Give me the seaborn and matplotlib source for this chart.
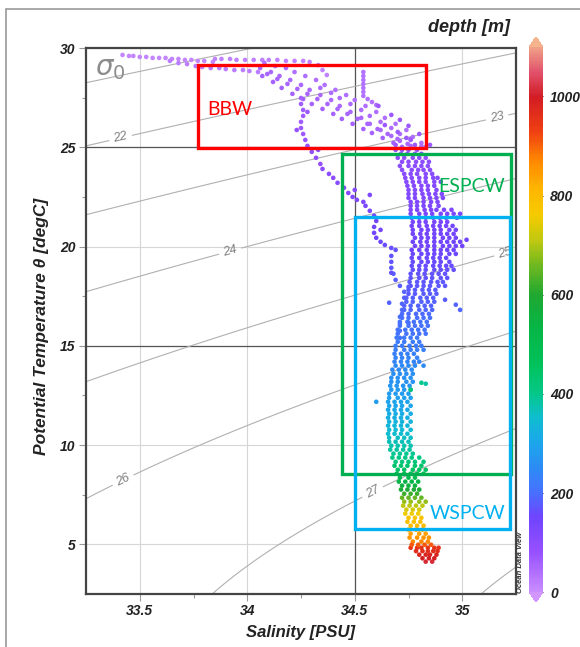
import numpy as np
import pandas as pd
import matplotlib
matplotlib.use("Agg")
import matplotlib.pyplot as plt
import seaborn as sns
from matplotlib.colors import LinearSegmentedColormap, Normalize
from matplotlib.patches import Rectangle
from matplotlib.cm import ScalarMappable

# ---- data (salinity PSU, potential temperature degC, depth m) ----
# surface streaks
surf1_S = [33.42, 33.45, 33.47, 33.50, 33.53, 33.56, 33.59, 33.62, 33.65, 33.68, 33.71, 33.74, 33.77, 33.80, 33.84]
surf1_T = [29.65, 29.60, 29.60, 29.55, 29.55, 29.50, 29.50, 29.50, 29.45, 29.45, 29.40, 29.40, 29.35, 29.35, 29.30]
surf2_S = [33.64, 33.68, 33.72, 33.76, 33.79, 33.83, 33.87, 33.90, 33.94, 33.98, 34.01, 34.05]
surf2_T = [29.35, 29.24, 29.19, 29.09, 29.04, 28.99, 28.99, 28.94, 28.89, 28.89, 28.84, 28.79]
surf3_S = [33.85, 33.88, 33.92, 33.95, 33.99, 34.03, 34.07, 34.10, 34.14, 34.18, 34.22, 34.26, 34.29, 34.33, 34.35, 34.37]
surf3_T = [29.45, 29.45, 29.45, 29.40, 29.40, 29.40, 29.40, 29.40, 29.40, 29.35, 29.35, 29.35, 29.30, 29.14, 28.89, 28.64]
spike_S = [34.54, 34.54, 34.54, 34.54, 34.54, 34.54, 34.54, 34.56, 34.58, 34.60]
spike_T = [28.79, 28.59, 28.39, 28.19, 27.99, 27.79, 27.59, 27.43, 27.28, 27.13]

# sloping surface band (BBW)
band1_S = [34.08, 34.13, 34.18, 34.22, 34.27, 34.32, 34.36, 34.41, 34.46, 34.50, 34.55, 34.60, 34.64, 34.69, 34.74, 34.77, 34.81, 34.83]
band1_T = [29.25, 29.09, 28.99, 28.79, 28.59, 28.39, 28.14, 27.89, 27.63, 27.38, 27.08, 26.78, 26.48, 26.18, 25.87, 25.52, 25.22, 25.02]
band2_S = [34.06, 34.11, 34.15, 34.20, 34.25, 34.29, 34.34, 34.39, 34.43, 34.48, 34.53, 34.57, 34.62, 34.67, 34.71, 34.76]
band2_T = [28.99, 28.79, 28.59, 28.39, 28.14, 27.89, 27.63, 27.38, 27.08, 26.78, 26.48, 26.18, 25.87, 25.57, 25.32, 25.07]
band3_S = [34.07, 34.12, 34.16, 34.21, 34.26, 34.30, 34.35, 34.40, 34.44, 34.49, 34.54, 34.58, 34.63, 34.68, 34.72]
band3_T = [28.59, 28.29, 27.99, 27.69, 27.43, 27.18, 26.93, 26.68, 26.43, 26.18, 25.92, 25.72, 25.47, 25.22, 25.02]
band4_S = [34.34, 34.39, 34.43, 34.48, 34.53, 34.57, 34.62, 34.67, 34.71, 34.76, 34.81]
band4_T = [27.99, 27.74, 27.48, 27.18, 26.88, 26.58, 26.28, 25.97, 25.67, 25.42, 25.07]
band5_S = [34.093, 34.14, 34.187, 34.233, 34.28, 34.326, 34.373, 34.42, 34.466, 34.513, 34.559, 34.606, 34.653, 34.699, 34.746]
band5_T = [28.69, 28.44, 28.19, 27.94, 27.69, 27.43, 27.18, 26.93, 26.68, 26.43, 26.18, 25.92, 25.67, 25.42, 25.17]
fill_S = [34.64, 34.70, 34.76, 34.78, 34.71, 34.75, 34.80, 34.67, 34.61, 34.85, 34.69, 34.74]
fill_T = [26.12, 25.77, 25.37, 25.12, 26.38, 26.08, 25.67, 26.63, 27.08, 25.12, 25.12, 25.47]

# left-hand descending profile
branch_S = [34.25, 34.25, 34.26, 34.26, 34.25, 34.25, 34.26, 34.27, 34.28, 34.30, 34.32, 34.34, 34.35, 34.38,
            34.40, 34.42, 34.45, 34.47, 34.49, 34.51, 34.54, 34.55, 34.57, 34.59, 34.60, 34.59, 34.59, 34.60,
            34.62, 34.64, 34.67, 34.69, 34.67, 34.67, 34.67, 34.68, 34.69, 34.71, 34.73, 34.73, 34.72, 34.72,
            34.71, 34.71, 34.71, 34.71]
branch_T = [27.48, 27.18, 26.88, 26.58, 26.28, 25.97, 25.67, 25.37, 25.07, 24.77, 24.47, 24.16, 23.91, 23.66,
            23.46, 23.21, 22.96, 22.70, 22.50, 22.35, 22.25, 22.05, 21.80, 21.55, 21.29, 20.99, 20.69, 20.44,
            20.24, 20.08, 19.93, 19.83, 19.53, 19.23, 18.93, 18.63, 18.32, 18.02, 17.72, 17.42, 17.12, 16.81,
            16.46, 16.11, 15.76, 15.40]
branch_depth = [60, 62, 64, 66, 68, 70, 72, 75, 78, 82, 86, 90, 94, 98,
                102, 106, 110, 114, 118, 122, 126, 130, 134, 138, 142, 146, 150, 153,
                156, 159, 162, 165, 168, 171, 174, 177, 180, 183, 186, 189, 192, 195,
                198, 201, 204, 207]
loose_S = [34.28, 34.23, 34.33, 34.57, 34.67, 34.66, 34.75, 34.75, 34.62, 34.50]
loose_T = [26.78, 25.87, 24.87, 22.60, 18.68, 17.17, 17.97, 16.16, 20.84, 22.85]
loose_depth = [70, 80, 95, 125, 170, 185, 178, 195, 140, 115]

# main thermocline / intermediate band, one row per temperature level
main_T = [24.87, 24.47, 24.06, 23.66, 23.26, 22.85, 22.45, 22.05, 21.65, 21.24, 20.84, 20.44, 20.03, 19.63,
          19.23, 18.83, 18.42, 18.02, 17.62, 17.22, 16.81, 16.41, 16.01, 15.61, 15.20, 14.80, 14.40, 14.00,
          13.59, 13.19, 12.79, 12.38, 11.98, 11.58, 11.18, 10.77, 10.37, 9.97, 9.57, 9.16, 8.76, 8.36,
          7.96, 7.55, 7.15, 6.75, 6.34, 5.94, 5.54, 5.14, 4.83, 4.48, 4.13]
main_S = [
    [34.69, 34.72, 34.75, 34.79],
    [34.70, 34.73, 34.77, 34.80, 34.83],
    [34.71, 34.75, 34.78, 34.81, 34.84],
    [34.73, 34.76, 34.79, 34.83, 34.86],
    [34.74, 34.77, 34.80, 34.83, 34.87, 34.90],
    [34.75, 34.78, 34.81, 34.84, 34.88],
    [34.75, 34.78, 34.82, 34.85, 34.88, 34.91],
    [34.76, 34.79, 34.82, 34.85, 34.89],
    [34.76, 34.80, 34.83, 34.86, 34.90, 34.93, 34.96, 34.99],
    [34.77, 34.80, 34.83, 34.87, 34.90, 34.93],
    [34.77, 34.81, 34.84, 34.87, 34.90, 34.94, 34.97],
    [34.78, 34.81, 34.84, 34.87, 34.91, 34.94, 34.97],
    [34.78, 34.81, 34.84, 34.87, 34.91, 34.94, 34.97, 35.00],
    [34.77, 34.81, 34.84, 34.87, 34.90, 34.94, 34.97],
    [34.77, 34.81, 34.84, 34.87, 34.90, 34.94],
    [34.77, 34.80, 34.83, 34.87, 34.90, 34.93, 34.96],
    [34.76, 34.80, 34.83, 34.86, 34.90, 34.93],
    [34.76, 34.79, 34.82, 34.85, 34.89, 34.92],
    [34.75, 34.78, 34.82, 34.85, 34.88],
    [34.74, 34.77, 34.81, 34.84, 34.87],
    [34.73, 34.76, 34.80, 34.83, 34.86],
    [34.72, 34.75, 34.79, 34.82, 34.85],
    [34.71, 34.75, 34.78, 34.81, 34.84],
    [34.70, 34.74, 34.77, 34.80, 34.83],
    [34.70, 34.73, 34.77, 34.80],
    [34.69, 34.73, 34.76, 34.79, 34.82],
    [34.69, 34.72, 34.75, 34.79],
    [34.69, 34.72, 34.75, 34.78, 34.82],
    [34.68, 34.71, 34.74, 34.77],
    [34.67, 34.70, 34.74, 34.77],
    [34.67, 34.70, 34.73, 34.76],
    [34.66, 34.70, 34.73, 34.76],
    [34.66, 34.69, 34.72, 34.76],
    [34.66, 34.69, 34.72, 34.76],
    [34.66, 34.69, 34.72, 34.76],
    [34.66, 34.69, 34.72, 34.76],
    [34.66, 34.70, 34.73, 34.76],
    [34.67, 34.70, 34.73, 34.76],
    [34.68, 34.71, 34.74, 34.77],
    [34.69, 34.72, 34.75, 34.78, 34.82],
    [34.70, 34.73, 34.77, 34.80, 34.83],
    [34.71, 34.75, 34.78],
    [34.72, 34.75, 34.78],
    [34.73, 34.76, 34.79],
    [34.73, 34.76, 34.80, 34.83],
    [34.74, 34.77, 34.80],
    [34.75, 34.78, 34.81],
    [34.76, 34.79, 34.82],
    [34.76, 34.80, 34.83],
    [34.77, 34.81, 34.84],
    [34.76, 34.79, 34.81, 34.84, 34.87, 34.89],
    [34.80, 34.83, 34.85, 34.88],
    [34.83, 34.86],
]
main_depth = [80, 90, 100, 105, 110, 115, 120, 125, 130, 135, 140, 145, 150, 155,
              160, 165, 170, 175, 180, 185, 190, 200, 205, 210, 220, 225, 235, 245,
              255, 265, 275, 290, 300, 315, 330, 345, 360, 375, 395, 420, 450, 500,
              550, 620, 680, 730, 780, 800, 840, 870, 950, 980, 1010]

# in-between rows of the same band
mid_T = [24.67, 24.27, 23.86, 23.46, 23.06, 22.65, 22.25, 21.85, 21.45, 21.04, 20.64, 20.24, 19.83, 19.43,
         19.03, 18.63, 18.22, 17.82, 17.42, 17.02, 16.61, 16.21, 15.81, 15.41, 15.00, 14.60, 14.20, 13.80,
         13.39, 12.99, 12.59, 12.18, 11.78, 11.38, 10.98, 10.57, 10.17, 9.77, 9.37, 8.96, 8.56, 8.16,
         7.76, 7.35, 6.95, 6.55, 6.14, 5.74, 5.34, 4.98, 4.66, 4.30]
mid_S = [
    [34.715, 34.745, 34.78, 34.81],
    [34.72, 34.75, 34.785, 34.815, 34.845],
    [34.72, 34.765, 34.795, 34.82, 34.85],
    [34.735, 34.765, 34.80, 34.83, 34.865, 34.885],
    [34.745, 34.775, 34.81, 34.84, 34.87],
    [34.75, 34.78, 34.815, 34.845, 34.875, 34.905],
    [34.76, 34.79, 34.82, 34.855, 34.885],
    [34.76, 34.79, 34.825, 34.855, 34.88, 34.915, 34.95],
    [34.765, 34.80, 34.83, 34.865, 34.895, 34.925, 34.975],
    [34.765, 34.80, 34.835, 34.865, 34.895, 34.925, 34.955],
    [34.77, 34.805, 34.835, 34.87, 34.90, 34.93, 34.96],
    [34.77, 34.805, 34.835, 34.87, 34.90, 34.93, 34.96, 34.99],
    [34.765, 34.80, 34.835, 34.87, 34.90, 34.93, 34.96],
    [34.765, 34.80, 34.835, 34.865, 34.895, 34.925],
    [34.765, 34.80, 34.83, 34.865, 34.895, 34.925, 34.95],
    [34.76, 34.795, 34.825, 34.86, 34.89, 34.92],
    [34.755, 34.79, 34.82, 34.855, 34.885, 34.91],
    [34.75, 34.78, 34.815, 34.845, 34.875],
    [34.74, 34.77, 34.805, 34.835, 34.865],
    [34.73, 34.76, 34.795, 34.825, 34.855],
    [34.72, 34.75, 34.785, 34.815, 34.845],
    [34.71, 34.745, 34.775, 34.805, 34.835],
    [34.70, 34.735, 34.765, 34.795, 34.825],
    [34.695, 34.73, 34.76, 34.79],
    [34.69, 34.72, 34.755, 34.785, 34.81],
    [34.685, 34.715, 34.745, 34.775],
    [34.685, 34.715, 34.745, 34.775, 34.80],
    [34.675, 34.705, 34.735, 34.765],
    [34.67, 34.70, 34.73, 34.76],
    [34.665, 34.695, 34.725, 34.755],
    [34.66, 34.69, 34.72, 34.75],
    [34.655, 34.685, 34.715, 34.745],
    [34.655, 34.685, 34.715, 34.745],
    [34.655, 34.685, 34.715, 34.745],
    [34.655, 34.685, 34.715, 34.745],
    [34.655, 34.685, 34.715, 34.745],
    [34.66, 34.69, 34.72, 34.75],
    [34.665, 34.695, 34.725, 34.755],
    [34.675, 34.705, 34.735, 34.765, 34.80],
    [34.685, 34.715, 34.745, 34.78, 34.81],
    [34.695, 34.73, 34.76, 34.79, 34.82],
    [34.705, 34.735, 34.765, 34.795],
    [34.715, 34.745, 34.775, 34.80],
    [34.72, 34.75, 34.78, 34.81],
    [34.725, 34.755, 34.785, 34.815],
    [34.735, 34.765, 34.795],
    [34.745, 34.775, 34.805],
    [34.75, 34.785, 34.815],
    [34.755, 34.79, 34.82, 34.845],
    [34.765, 34.795, 34.825, 34.855],
    [34.785, 34.815, 34.84, 34.865, 34.885],
    [34.815, 34.845, 34.87],
]
mid_depth = [85, 95, 102, 108, 112, 118, 122, 128, 132, 138, 142, 148, 152, 158,
             162, 168, 172, 178, 182, 188, 195, 202, 208, 215, 222, 230, 240, 250,
             260, 270, 282, 295, 308, 322, 338, 352, 368, 385, 408, 435, 475, 525,
             585, 650, 705, 755, 790, 820, 855, 910, 965, 995]

odd_S = [34.92, 34.97, 34.99, 35.02, 34.81, 34.76, 34.60, 34.83]
odd_T = [17.32, 17.07, 16.81, 20.34, 13.14, 12.79, 12.18, 13.09]
odd_depth = [180, 185, 190, 150, 400, 420, 280, 380]

plain_levels = [21, 28]
label_levels = [22, 23, 24, 25, 26, 27]

# collect everything
frames = []
def add(S, T, depth):
    frames.append(pd.DataFrame({"S": S, "T": T, "depth": depth}))

add(surf1_S, surf1_T, 10)
add(surf2_S, surf2_T, 25)
add(surf3_S, surf3_T, 15)
add(spike_S, spike_T, 35)
add(band1_S, band1_T, 40)
add(band2_S, band2_T, 50)
add(band3_S, band3_T, 60)
add(band4_S, band4_T, 45)
add(band5_S, band5_T, 55)
add(fill_S, fill_T, 70)
add(branch_S, branch_T, branch_depth)
add(loose_S, loose_T, loose_depth)
for t, row, d in zip(main_T, main_S, main_depth):
    add(row, t, d)
for t, row, d in zip(mid_T, mid_S, mid_depth):
    add(row, t, d)
add(odd_S, odd_T, odd_depth)
ts = pd.concat(frames, ignore_index=True)

# ODV-like rainbow
odv_stops = [(0, "#c88cff"), (80, "#9650ff"), (150, "#7044ff"), (200, "#4870ff"), (250, "#2c8cf4"),
             (300, "#1ca6ec"), (350, "#10bcd0"), (400, "#04c88a"), (460, "#00c25a"), (540, "#08b444"),
             (600, "#20a832"), (660, "#70b820"), (710, "#c0c810"), (760, "#f4cc00"), (810, "#ffb800"),
             (870, "#ff8a00"), (930, "#f04012"), (1000, "#d21c24"), (1050, "#e0506a"), (1100, "#f0a088")]
odv = LinearSegmentedColormap.from_list("odv", [(v / 1100, c) for v, c in odv_stops])
odv.set_under("#d296ff")
odv.set_over("#f6b48e")
norm = Normalize(vmin=0, vmax=1100)

# potential density anomaly (UNESCO 1980, p = 0) for the background isopycnals
sg, tg = np.meshgrid(np.linspace(33.2, 35.3, 300), np.linspace(2.0, 30.5, 300))
rho_w = (999.842594 + 6.793952e-2 * tg - 9.095290e-3 * tg**2 + 1.001685e-4 * tg**3
         - 1.120083e-6 * tg**4 + 6.536332e-9 * tg**5)
A = 8.24493e-1 - 4.0899e-3 * tg + 7.6438e-5 * tg**2 - 8.2467e-7 * tg**3 + 5.3875e-9 * tg**4
B = -5.72466e-3 + 1.0227e-4 * tg - 1.6546e-6 * tg**2
sigma0 = rho_w + A * sg + B * sg**1.5 + 4.8314e-4 * sg**2 - 1000

sns.set_style("white")
plt.rcParams["font.family"] = ["Liberation Sans", "DejaVu Sans"]

fig = plt.figure(figsize=(5.8, 6.47), dpi=100)
ax = fig.add_axes([86/580, 1 - 594/647, 430/580, 546/647])

ax.grid(True, color="#d6d6d6", lw=0.8, zorder=0)
for v in [15, 25]:
    ax.axhline(v, color="#555555", lw=0.9, zorder=1)
ax.axvline(34.5, color="#555555", lw=0.9, zorder=1)

ax.contour(sg, tg, sigma0, levels=plain_levels, colors="#b0b0b0", linewidths=0.8, zorder=1)
cs = ax.contour(sg, tg, sigma0, levels=label_levels, colors="#b0b0b0", linewidths=0.8, zorder=1)
lbl = ax.clabel(cs, fmt="%d", fontsize=9, colors="#808080", inline=True, inline_spacing=4,
                manual=[(33.41, 25.5), (35.16, 26.6), (33.92, 19.8), (35.20, 19.7), (33.42, 8.3), (34.58, 7.7)])
for t in lbl:
    t.set_fontstyle("italic")

sns.scatterplot(data=ts, x="S", y="T", hue="depth", palette=odv, hue_norm=norm, s=11,
                linewidth=0, legend=False, ax=ax, zorder=3)

# water mass boxes
boxes = [("BBW", 33.77, 24.95, 34.83, 29.15, "#ff0000"),
         ("ESPCW", 34.44, 8.56, 35.225, 24.67, "#00b050"),
         ("WSPCW", 34.50, 5.79, 35.22, 21.5, "#00b0f0")]
for name, s0, t0, s1, t1, c in boxes:
    ax.add_patch(Rectangle((s0, t0), s1 - s0, t1 - t0, fill=False, ec=c, lw=2.4, zorder=5))
box_font = dict(family=["Lato", "DejaVu Sans"], fontsize=14)
ax.text(33.92, 26.88, "BBW", color="#ff0000", ha="center", va="center", zorder=6, **box_font)
ax.text(35.20, 23.0, "ESPCW", color="#00b050", ha="right", va="center", zorder=6, **box_font)
ax.text(35.20, 6.55, "WSPCW", color="#00b0f0", ha="right", va="center", zorder=6, **box_font)

ax.text(33.29, 28.95, r"$\sigma_0$", fontsize=20, color="#8c8c8c", ha="left", va="center", zorder=4)

ax.set_xlim(33.25, 35.25)
ax.set_ylim(2.5, 30)
ax.set_xticks([33.5, 34, 34.5, 35])
ax.set_xticklabels(["33.5", "34", "34.5", "35"])
ax.set_xticks([33.75, 34.25, 34.75], minor=True)
ax.set_yticks([5, 10, 15, 20, 25, 30])
ax.set_yticks([7.5, 12.5, 17.5, 22.5, 27.5], minor=True)
ax.tick_params(which="both", direction="out", color="#999999", length=5, width=0.8, pad=2.5,
               labelsize=10, labelcolor="#222222", bottom=True, left=True)
ax.tick_params(which="minor", length=3)
for lab in ax.get_xticklabels() + ax.get_yticklabels():
    lab.set_fontweight("bold")
    lab.set_fontstyle("italic")
for sp in ax.spines.values():
    sp.set_color("#444444")
    sp.set_linewidth(1.6)

ax.set_xlabel("Salinity [PSU]", fontsize=12, fontweight="bold", style="italic", color="#222222")
ax.set_ylabel("Potential Temperature θ [degC]", fontsize=12.5, fontweight="bold", style="italic", color="#222222")
ax.xaxis.set_label_coords(0.498, -0.056)
ax.yaxis.set_label_coords(-0.086, 0.49)

# colorbar
cax = fig.add_axes([529/580, 1 - 602/647, 14/580, 565/647])
sm = ScalarMappable(norm=norm, cmap=odv)
cb = fig.colorbar(sm, cax=cax, extend="both", extendfrac=0.018, ticks=[0, 200, 400, 600, 800, 1000])
cb.outline.set_visible(False)
cax.tick_params(direction="in", length=3, color="#333333", labelsize=10, pad=5, labelcolor="#222222")
for lab in cax.get_yticklabels():
    lab.set_fontweight("bold")
    lab.set_fontstyle("italic")

fig.text(510/580, 1 - 28/647, "depth [m]", ha="right", va="center", fontsize=13,
         fontweight="bold", style="italic", color="#222222")
fig.text(520/580, 1 - 562/647, "Ocean Data View", rotation=90, ha="center", va="center",
         fontsize=5.5, fontweight="bold", style="italic", color="#333333")

# outer frame of the figure panel
fig.patches.append(Rectangle((6/580, -0.1), 1.0, 1.1 - 9/647, transform=fig.transFigure,
                             fill=False, ec="#999999", lw=1.2))

fig.savefig("out.png", dpi=100)
